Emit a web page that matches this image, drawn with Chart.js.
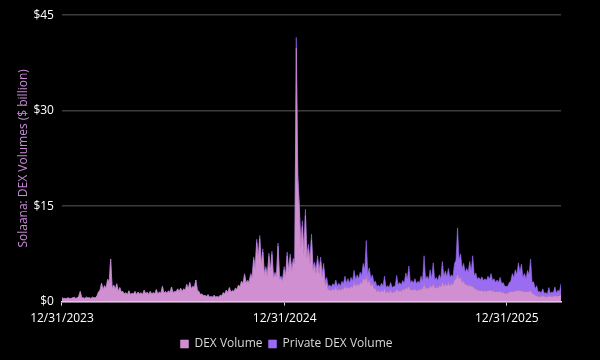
<!DOCTYPE html>
<html lang="en">
<head>
<meta charset="UTF-8">
<title>Solana DEX Volumes</title>
<script src="https://cdn.jsdelivr.net/npm/chart.js"></script>
<style>
  body { margin: 0; background: #000; }
  #wrap { width: 600px; height: 360px; position: relative; }
</style>
</head>
<body>
<div id="wrap"><canvas id="chart"></canvas></div>
<script>
// one sample every 2.5 days, starting 12/31/2023 (values in $ billion)
const stepDays = 2.5;
const dexVolume = [
  0.6, 0.5, 0.5, 0.5, 0.6, 0.5, 0.5, 0.6, 0.7, 0.5,
  0.6, 0.8, 1.6, 0.6, 0.6, 0.5, 0.7, 0.6, 0.6, 0.5,
  0.7, 0.6, 0.6, 0.9, 1.5, 1.8, 2.9, 1.9, 2.5, 2.1,
  3.5, 3.0, 6.7, 2.0, 2.6, 1.9, 2.8, 1.6, 2.2, 1.5,
  1.6, 1.2, 1.4, 1.1, 1.7, 1.1, 1.3, 1.2, 1.6, 1.1,
  1.5, 1.2, 1.4, 1.1, 1.8, 1.2, 1.5, 1.1, 1.6, 1.2,
  1.4, 1.2, 1.9, 1.2, 1.5, 1.3, 2.4, 1.3, 1.6, 1.3,
  1.7, 1.4, 2.3, 1.4, 1.6, 1.5, 2.0, 1.6, 2.1, 1.6,
  2.0, 1.8, 2.7, 2.0, 3.0, 2.0, 2.4, 2.2, 3.4, 1.8,
  1.6, 1.1, 1.2, 0.9, 1.0, 0.8, 1.1, 0.7, 0.8, 0.7,
  1.0, 0.7, 0.8, 0.7, 1.0, 0.9, 1.4, 1.2, 1.8, 1.4,
  2.2, 1.5, 1.7, 1.6, 2.1, 1.9, 2.6, 2.3, 3.2, 2.8,
  4.2, 2.9, 3.2, 3.0, 4.1, 3.8, 6.6, 5.2, 9.3, 6.6,
  9.9, 5.6, 7.8, 4.2, 5.1, 4.0, 7.1, 4.6, 7.4, 3.7,
  4.2, 3.9, 8.7, 3.5, 3.6, 3.2, 5.0, 3.8, 7.2, 4.6,
  6.9, 4.8, 6.2, 6.0, 39.8, 19.0, 14.4, 8.3, 11.8, 7.3,
  13.5, 6.8, 8.2, 5.9, 9.7, 4.9, 5.5, 4.4, 6.4, 4.3,
  6.2, 3.8, 5.1, 2.5, 2.9, 1.8, 1.9, 1.7, 2.0, 1.8,
  2.3, 1.7, 2.0, 1.7, 2.1, 1.9, 2.5, 2.0, 2.3, 2.0,
  2.4, 2.2, 3.0, 2.4, 2.8, 2.5, 3.0, 2.8, 3.6, 3.3,
  4.0, 3.0, 3.4, 2.5, 2.8, 2.1, 2.1, 1.6, 1.7, 1.5,
  1.8, 1.5, 2.0, 1.4, 1.6, 1.4, 1.8, 1.4, 1.5, 1.5,
  2.0, 1.6, 1.8, 1.6, 2.0, 1.8, 2.2, 2.0, 2.4, 1.8,
  1.9, 1.8, 2.0, 1.7, 1.9, 1.8, 2.1, 1.9, 2.8, 2.0,
  2.2, 2.0, 2.5, 2.2, 2.8, 2.1, 2.3, 2.1, 2.5, 2.3,
  3.0, 2.5, 2.8, 2.5, 3.0, 2.5, 2.8, 2.7, 3.4, 3.6,
  4.2, 3.6, 3.8, 3.0, 3.2, 2.7, 2.7, 2.5, 2.6, 2.4,
  2.4, 2.1, 2.0, 1.8, 1.8, 1.7, 1.8, 1.6, 1.7, 1.6,
  1.8, 1.7, 1.9, 1.6, 1.7, 1.5, 1.6, 1.5, 1.7, 1.4,
  1.5, 1.3, 1.3, 1.3, 1.5, 1.5, 1.6, 1.6, 1.7, 1.7,
  1.8, 1.7, 1.7, 1.6, 1.6, 1.5, 1.6, 1.6, 1.7, 1.3,
  1.2, 1.0, 1.0, 0.8, 0.8, 0.8, 0.9, 0.8, 0.8, 0.7,
  0.9, 0.8, 0.8, 0.8, 1.0, 0.8, 0.9, 0.9, 1.1
];
const privateDexVolume = [
  0, 0, 0, 0, 0, 0, 0, 0, 0, 0,
  0, 0, 0, 0, 0, 0, 0, 0, 0, 0,
  0, 0, 0, 0, 0, 0, 0, 0, 0, 0,
  0, 0, 0, 0, 0, 0, 0, 0, 0, 0,
  0, 0, 0, 0, 0, 0, 0, 0, 0, 0,
  0, 0, 0, 0, 0, 0, 0, 0, 0, 0,
  0, 0, 0, 0, 0, 0, 0, 0, 0, 0,
  0, 0, 0, 0, 0, 0, 0, 0, 0, 0,
  0, 0, 0, 0, 0, 0, 0, 0, 0, 0,
  0, 0, 0, 0, 0, 0, 0, 0, 0, 0,
  0, 0, 0, 0, 0, 0, 0, 0, 0, 0,
  0, 0, 0, 0, 0, 0, 0, 0, 0, 0,
  0.2, 0.1, 0.2, 0.1, 0.3, 0.2, 0.4, 0.3, 0.5, 0.4,
  0.5, 0.4, 0.5, 0.3, 0.4, 0.3, 0.5, 0.4, 0.5, 0.3,
  0.4, 0.3, 0.5, 0.3, 0.4, 0.3, 0.5, 0.4, 0.6, 0.4,
  0.6, 0.4, 0.6, 0.5, 1.7, 1.0, 1.0, 0.7, 0.9, 0.7,
  1.0, 0.7, 0.8, 0.6, 0.9, 0.6, 0.7, 0.6, 0.8, 0.7,
  0.8, 0.7, 0.9, 0.7, 0.9, 0.6, 0.7, 0.6, 0.8, 0.7,
  1.1, 0.7, 0.9, 0.7, 1.1, 0.9, 1.5, 0.9, 1.3, 0.9,
  1.4, 1.0, 1.9, 1.0, 1.4, 1.1, 1.6, 1.3, 2.4, 1.7,
  5.6, 1.4, 1.9, 1.1, 1.4, 0.9, 1.1, 0.8, 0.9, 0.8,
  1.1, 0.9, 2.0, 0.8, 0.9, 0.8, 1.2, 0.8, 0.9, 0.9,
  2.1, 1.0, 1.2, 1.0, 1.3, 1.1, 2.3, 1.5, 3.2, 1.1,
  1.4, 1.1, 1.6, 1.1, 1.3, 1.1, 1.9, 1.3, 4.4, 1.5,
  1.8, 1.4, 2.5, 1.4, 3.3, 1.3, 1.5, 1.2, 1.7, 1.3,
  3.3, 1.5, 2.0, 1.4, 2.2, 1.3, 1.4, 1.2, 2.6, 2.9,
  7.4, 2.9, 3.7, 2.2, 2.8, 1.9, 2.5, 2.1, 3.7, 2.4,
  4.8, 1.9, 2.5, 1.7, 2.0, 1.7, 2.1, 1.7, 1.9, 1.7,
  2.2, 1.8, 2.5, 1.7, 1.9, 1.5, 1.8, 1.5, 2.1, 1.4,
  1.5, 1.1, 1.1, 1.1, 1.5, 1.7, 2.8, 2.2, 3.3, 2.5,
  4.3, 2.9, 4.2, 2.2, 2.8, 2.1, 3.3, 2.6, 5.0, 1.7,
  1.9, 1.0, 1.5, 0.7, 0.8, 0.6, 1.1, 0.5, 0.6, 0.5,
  1.3, 0.5, 0.7, 0.6, 1.3, 0.5, 0.9, 0.7, 1.7
];
const tickDays = [0, 366, 731];
const tickLabels = ['12/31/2023', '12/31/2024', '12/31/2025'];
const yTicks = [0, 15, 30, 45];

const dexPoints = dexVolume.map((v, i) => ({ x: i * stepDays, y: v }));
const privPoints = privateDexVolume.map((v, i) => ({ x: i * stepDays, y: v }));
const lastDay = (dexVolume.length - 1) * stepDays;

const pink = '#d08fd0';
const purple = '#9a6cf2';

new Chart(document.getElementById('chart'), {
  type: 'line',
  data: {
    datasets: [
      {
        label: 'DEX Volume',
        data: dexPoints,
        backgroundColor: pink,
        borderColor: pink,
        borderWidth: 0.6,
        pointRadius: 0,
        fill: 'origin',
        tension: 0
      },
      {
        label: 'Private DEX Volume',
        data: privPoints,
        backgroundColor: purple,
        borderColor: purple,
        borderWidth: 0.6,
        pointRadius: 0,
        fill: '-1',
        tension: 0
      }
    ]
  },
  options: {
    responsive: true,
    maintainAspectRatio: false,
    animation: false,
    layout: { padding: { left: 12, right: 39, top: 8, bottom: 0 } },
    plugins: {
      tooltip: { enabled: false },
      legend: {
        position: 'bottom',
        labels: {
          color: '#d9d9d9',
          boxWidth: 8,
          boxHeight: 8,
          padding: 6,
          font: { family: 'Open Sans', size: 12 }
        }
      }
    },
    scales: {
      x: {
        type: 'linear',
        min: 0,
        max: lastDay,
        afterBuildTicks: axis => { axis.ticks = tickDays.map(v => ({ value: v })); },
        ticks: {
          color: '#ffffff',
          maxRotation: 0,
          padding: 6,
          font: { family: 'Open Sans', size: 12 },
          callback: v => tickLabels[tickDays.indexOf(v)]
        },
        grid: { drawOnChartArea: false, drawTicks: true, tickLength: 4, color: '#d9d9d9' },
        border: { display: true, color: '#e6cde6', width: 1.5 }
      },
      y: {
        stacked: true,
        min: 0,
        max: 45,
        afterBuildTicks: axis => { axis.ticks = yTicks.map(v => ({ value: v })); },
        ticks: {
          color: '#ffffff',
          padding: 8,
          font: { family: 'Open Sans', size: 12 },
          callback: v => '$' + v
        },
        grid: { color: '#3c3c3c', lineWidth: 1.5, drawTicks: false },
        border: { display: false },
        title: {
          display: true,
          text: 'Solaana: DEX Volumes ($ billion)',
          color: '#c78ad6',
          font: { family: 'Open Sans', size: 12 },
          padding: { top: 4, bottom: -5 }
        }
      }
    }
  }
});
</script>
</body>
</html>
